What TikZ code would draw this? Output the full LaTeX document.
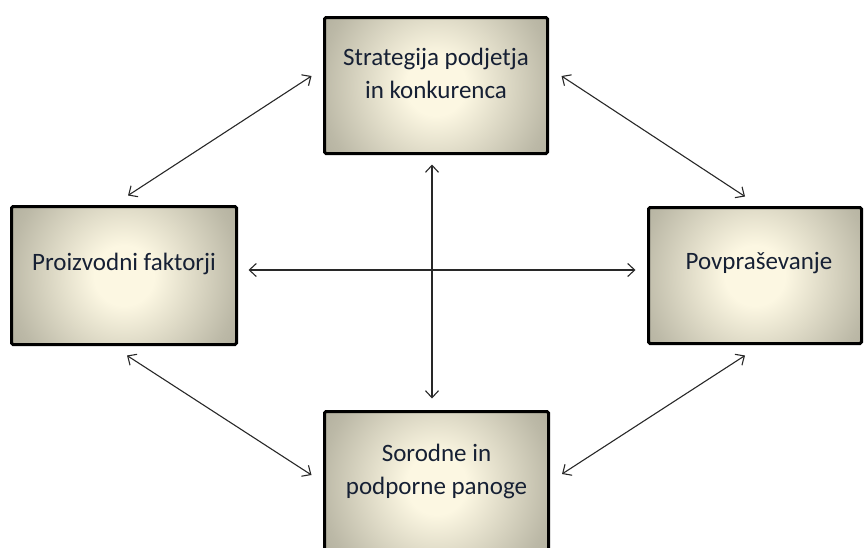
\documentclass[tikz,border=0pt]{standalone}
\usepackage{fontspec}
\setmainfont{Carlito}
\usetikzlibrary{arrows.meta,calc}

\definecolor{boxcore}{RGB}{252,247,226}
\definecolor{boxinner}{RGB}{188,185,167}
\definecolor{boxmid}{RGB}{150,148,132}
\definecolor{boxrim}{RGB}{128,126,112}
\definecolor{labelink}{RGB}{22,32,52}
\definecolor{linkgray}{RGB}{40,40,40}

% round glow from the centre of a box; 50bp is the outer radius
\pgfdeclareradialshading{factorglow}{\pgfpoint{0bp}{0bp}}{%
  color(0bp)=(boxcore); color(6bp)=(boxcore);
  color(23bp)=(boxinner); color(39bp)=(boxmid); color(50bp)=(boxrim)}

\begin{document}
\begin{tikzpicture}[x=1pt,y=-1pt,
  factor/.style 2 args={draw=black, line width=3pt, rounded corners=1.5pt,
    fill=boxrim,
    path picture={\shade[shading=factorglow]
      ($(path picture bounding box.center)+(-125,-125)$) rectangle
      ($(path picture bounding box.center)+(125,125)$);},
    minimum width=#1, minimum height=#2, inner sep=0pt},
  factortext/.style={text=labelink, align=center, inner sep=0pt,
    font=\fontsize{25}{33}\selectfont},
  link/.style={draw=linkgray, line width=1.1pt,
    {Straight Barb[length=7pt,width=13pt]}-{Straight Barb[length=7pt,width=13pt]}}
]
\useasboundingbox (0,0) rectangle (864,547);

% the four determinants
\node[factor={223}{136}] (T) at (436,85.5) {};
\node[factor={225}{138}] (L) at (124,275.5) {};
\node[factor={213}{136}] (R) at (755,275.5) {};
\node[factor={224}{146}] (B) at (436.5,484.5) {};

% their labels, set a little above each box centre
\node[factortext] (Ttext) at ($(T.center)+(0,-12)$) {Strategija podjetja\\in konkurenca};
\node[factortext] (Ltext) at ($(L.center)+(0,-12)$) {Proizvodni faktorji};
\node[factortext] (Rtext) at ($(R.center)+(4,-12)$) {Povpraševanje};
\node[factortext] (Btext) at ($(B.center)+(0,-13)$) {Sorodne in\\podporne panoge};

% two-way links between the determinants
\draw[link] ($(L.north)+(4,-9.5)$) -- ($(T.west)+(-11.5,-9.5)$);
\draw[link] ($(T.east)+(12.5,-9.5)$) -- ($(R.north)+(-10,-9.5)$);
\draw[link] ($(L.south)+(3,9.5)$) -- ($(B.west)+(-11.5,-9.5)$);
\draw[link] ($(R.south)+(-10,10.5)$) -- ($(B.east)+(12,-10.5)$);
\draw[link] ($(L.east)+(10.5,-5.5)$) -- ($(R.west)+(-11.5,-5.5)$);
\draw[link] ($(T.south)+(-4,9.5)$) -- ($(B.north)+(-4.5,-11.5)$);
\end{tikzpicture}
\end{document}
